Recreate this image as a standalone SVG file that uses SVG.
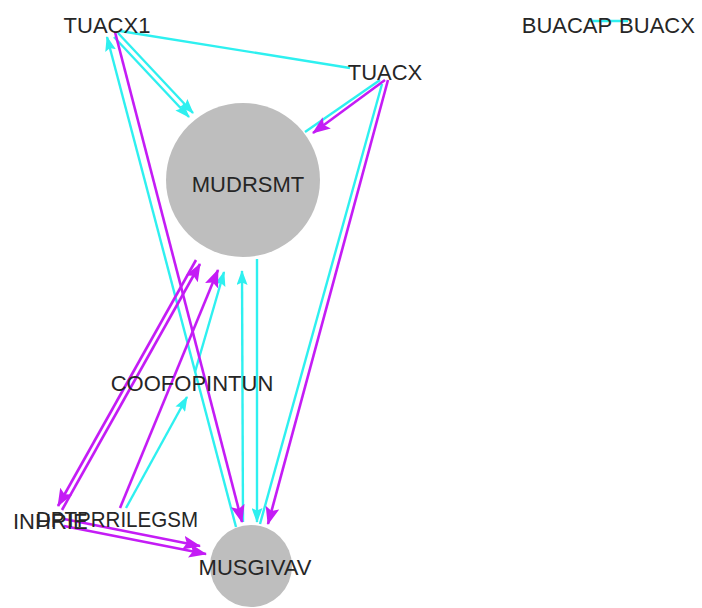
<svg xmlns="http://www.w3.org/2000/svg" width="702" height="608" viewBox="0 0 702 608">
<style>
.m{stroke:#c41cf5;stroke-width:2.6;fill:none}
.c{stroke:#2ef0f0;stroke-width:2.4;fill:none}
.n{fill:#bebebe}
text{font-family:"Liberation Sans",Arial,sans-serif;font-size:22px;fill:#262626;text-anchor:middle}
</style>
<defs>
<marker id="am" viewBox="0 0 18 14" refX="17" refY="7" markerWidth="18" markerHeight="14" markerUnits="userSpaceOnUse" orient="auto"><path d="M0,0 L18,7 L0,14 L3.5,7 z" fill="#c41cf5"/></marker>
<marker id="ac" viewBox="0 0 15 11" refX="14" refY="5.5" markerWidth="15" markerHeight="11" markerUnits="userSpaceOnUse" orient="auto"><path d="M0,0 L15,5.5 L0,11 L2.5,5.5 z" fill="#2ef0f0"/></marker>
</defs>
<rect width="702" height="608" fill="#ffffff"/>
<g id="connectors">
<line class="c" x1="114" y1="37" x2="189" y2="117" marker-end="url(#ac)"/>
<line class="c" x1="118" y1="33" x2="193" y2="113" marker-end="url(#ac)"/>
<line class="c" x1="120" y1="31" x2="350" y2="68" stroke-width="2"/>
<line class="c" x1="236" y1="527" x2="107" y2="37" marker-end="url(#ac)"/>
<line class="c" x1="380" y1="80" x2="305" y2="132"/>
<line class="c" x1="260" y1="524" x2="382" y2="84"/>
<line class="c" x1="243" y1="522" x2="242" y2="271" marker-end="url(#ac)"/>
<line class="c" x1="257" y1="259" x2="257" y2="522" marker-end="url(#ac)"/>
<line class="c" x1="126" y1="508" x2="187" y2="397" marker-end="url(#ac)"/>
<line class="c" x1="195" y1="372" x2="224" y2="272" marker-end="url(#ac)"/>
<line class="c" x1="588" y1="21" x2="628" y2="21" stroke-width="3"/>
<line class="m" x1="115" y1="32" x2="242" y2="522" marker-end="url(#am)"/>
<line class="m" x1="385" y1="80" x2="313" y2="133" marker-end="url(#am)"/>
<line class="m" x1="388" y1="80" x2="268" y2="524" marker-end="url(#am)"/>
<line class="m" x1="62" y1="510" x2="200" y2="264" marker-end="url(#am)"/>
<line class="m" x1="196" y1="260" x2="58" y2="506" marker-end="url(#am)"/>
<line class="m" x1="120" y1="508" x2="218" y2="270" marker-end="url(#am)"/>
<line class="m" x1="64" y1="519" x2="200" y2="546" marker-end="url(#am)"/>
<line class="m" x1="64" y1="526" x2="206" y2="554" marker-end="url(#am)"/>
</g>
<g id="MUDRSMT"><circle class="n" cx="243" cy="180" r="77"/><text x="248" y="192">MUDRSMT</text></g>
<g id="MUSGIVAV"><circle class="n" cx="251" cy="566" r="41"/><text x="255" y="575">MUSGIVAV</text></g>
<g id="TUACX1"><text x="107" y="33">TUACX1</text></g>
<g id="TUACX"><text x="385" y="80">TUACX</text></g>
<g id="BUACAP"><text x="567" y="33">BUACAP</text></g>
<g id="BUACX"><text x="657" y="33">BUACX</text></g>
<g id="COOFOPINTUN"><text x="192" y="391">COOFOPINTUN</text></g>
<g id="INHRIE"><text x="13" y="529" style="text-anchor:start">INHRIE</text></g>
<g id="DPTPRRILEGSM"><text x="36" y="527" style="text-anchor:start" textLength="162" lengthAdjust="spacingAndGlyphs">DPTPRRILEGSM</text></g>
</svg>
